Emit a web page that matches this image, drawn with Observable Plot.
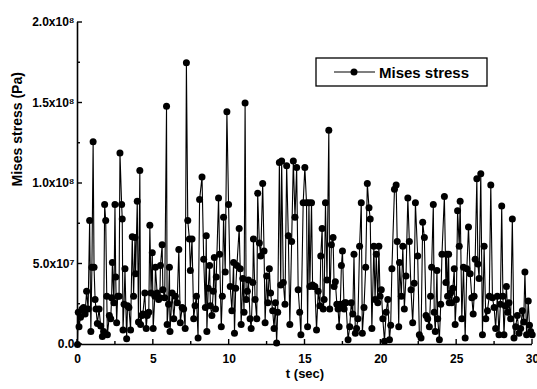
<!DOCTYPE html>
<html><head><meta charset="utf-8">
<script src="https://cdn.jsdelivr.net/npm/d3@7"></script>
<script src="https://cdn.jsdelivr.net/npm/@observablehq/plot@0.6"></script>
<style>
body{margin:0;background:#fff}
#chart{width:537px;height:389px}
</style>
</head><body><div id="chart"></div>
<script>
// Mises stress readings: [t (sec), stress in units of 1e7 Pa]
const UNIT = 1e7;
const readings = [
[0,0],[0.05,2.0],[0.1,1.1],[0.2,1.7],[0.3,2.2],[0.4,2.3],[0.5,1.9],[0.6,3.3],[0.7,2.2],[0.8,7.7],[0.88,0.8],[0.95,4.8],[1.03,12.6],[1.09,4.8],[1.16,2.8],[1.22,2.2],[1.31,1.3],[1.42,2.2],[1.53,1.15],[1.64,0.5],[1.72,0.8],[1.79,8.7],[1.86,7.7],[1.93,3.0],[1.97,0.6],[2.1,1.8],[2.19,1.6],[2.25,2.9],[2.3,5.1],[2.4,2.6],[2.47,8.7],[2.52,4.2],[2.58,1.35],[2.65,3.0],[2.74,3.0],[2.8,11.9],[2.91,8.7],[2.95,7.8],[3.0,0.9],[3.07,2.5],[3.13,4.7],[3.24,0.35],[3.3,2.4],[3.39,2.3],[3.5,0.9],[3.61,6.7],[3.7,3.0],[3.79,6.65],[3.83,4.4],[3.94,8.9],[4.02,1.4],[4.11,10.8],[4.16,1.25],[4.25,1.8],[4.31,1.9],[4.44,3.2],[4.53,1.0],[4.6,1.8],[4.7,2.0],[4.77,7.4],[4.85,3.2],[4.93,5.7],[4.99,1.0],[5.1,3.0],[5.14,4.8],[5.25,3.2],[5.35,2.8],[5.43,2.9],[5.47,4.9],[5.58,6.2],[5.63,3.4],[5.75,2.9],[5.87,14.8],[5.91,1.25],[6.0,2.5],[6.06,4.8],[6.1,0.8],[6.24,3.2],[6.35,1.6],[6.45,3.0],[6.57,2.6],[6.68,5.9],[6.78,1.35],[6.9,2.3],[7.0,2.2],[7.1,1.0],[7.18,17.5],[7.27,7.7],[7.38,6.55],
[7.44,4.6],[7.55,6.55],[7.66,1.6],[7.75,2.4],[7.84,3.0],[7.95,0.4],[8.05,9.0],[8.21,10.4],[8.32,5.3],[8.43,2.3],[8.49,6.75],[8.53,0.8],[8.62,3.5],[8.71,4.9],[8.76,2.4],[8.86,1.8],[8.95,3.3],[9.02,5.4],[9.1,2.2],[9.15,4.2],[9.3,9.1],[9.37,5.6],[9.48,1.1],[9.55,3.0],[9.63,7.9],[9.74,4.5],[9.85,14.45],[9.96,8.7],[10.07,3.6],[10.18,2.1],[10.29,5.1],[10.35,0.7],[10.43,3.5],[10.51,4.9],[10.66,7.2],[10.73,4.7],[10.79,1.25],[10.9,4.1],[10.98,2.0],[11.05,15.0],[11.12,2.8],[11.2,3.3],[11.27,4.0],[11.38,1.6],[11.45,1.0],[11.56,3.85],[11.6,6.55],[11.71,2.8],[11.82,1.6],[11.88,9.4],[11.99,6.3],[12.08,5.5],[12.21,10.0],[12.3,5.8],[12.37,1.35],[12.47,4.25],[12.55,2.6],[12.65,4.7],[12.73,3.2],[12.87,2.1],[12.96,1.0],[13.05,2.6],[13.13,0.1],[13.2,2.0],[13.31,11.3],[13.4,3.7],[13.46,11.4],[13.57,3.85],[13.68,2.5],[13.79,11.1],[13.9,6.75],[14.0,1.25],[14.12,6.4],[14.23,11.4],[14.34,7.9],[14.45,11.0],[14.55,3.4],[14.65,2.0],[14.73,0.6],[14.88,8.8],[14.99,11.0],
[15.1,8.8],[15.17,1.1],[15.26,8.8],[15.32,3.6],[15.43,8.8],[15.5,3.7],[15.58,3.6],[15.65,3.6],[15.76,0.9],[15.87,3.3],[15.98,2.4],[16.04,5.5],[16.13,7.2],[16.2,2.2],[16.26,2.8],[16.35,8.8],[16.45,4.0],[16.57,13.3],[16.63,2.2],[16.74,6.2],[16.85,6.65],[16.92,3.6],[17.0,3.9],[17.1,2.5],[17.18,2.2],[17.25,1.1],[17.33,2.5],[17.4,4.9],[17.47,5.8],[17.58,2.2],[17.62,2.6],[17.7,2.6],[17.84,0.3],[17.95,1.1],[18.05,2.6],[18.15,1.9],[18.23,5.6],[18.32,0.7],[18.4,1.0],[18.49,1.6],[18.6,6.1],[18.71,8.8],[18.78,0.7],[18.89,2.3],[19.0,4.8],[19.11,10.0],[19.22,8.5],[19.3,7.8],[19.41,1.0],[19.54,6.1],[19.62,2.8],[19.7,5.6],[19.8,2.6],[19.87,6.1],[19.95,3.0],[20.03,3.4],[20.13,1.6],[20.24,0.2],[20.35,2.0],[20.46,2.8],[20.57,0.3],[20.65,1.2],[20.73,4.7],[20.9,9.65],[21.01,9.9],[21.08,6.4],[21.18,1.1],[21.23,5.1],[21.35,3.0],[21.45,6.1],[21.55,2.2],[21.66,4.25],[21.78,9.1],[21.88,6.4],[21.99,3.4],[22.1,1.35],[22.2,3.8],[22.28,8.8],[22.43,5.5],[22.54,0.6],
[22.65,0.4],[22.76,7.6],[22.87,6.65],[22.98,1.8],[23.09,1.6],[23.2,1.1],[23.28,3.0],[23.35,4.8],[23.46,8.7],[23.52,2.0],[23.59,0.8],[23.7,4.6],[23.75,1.6],[23.86,0.3],[23.95,2.5],[24.03,5.6],[24.19,9.2],[24.29,3.85],[24.34,5.6],[24.4,3.0],[24.47,5.6],[24.51,2.6],[24.6,3.2],[24.67,2.6],[24.75,3.5],[24.84,4.7],[24.9,1.25],[24.98,2.8],[25.06,8.3],[25.17,6.1],[25.23,8.9],[25.34,1.6],[25.45,4.8],[25.56,0.4],[25.67,4.7],[25.78,7.3],[25.89,4.4],[26.0,2.9],[26.09,1.9],[26.15,3.0],[26.22,5.3],[26.33,10.3],[26.4,5.0],[26.48,4.1],[26.59,10.6],[26.7,0.6],[26.81,6.1],[26.92,1.6],[27.03,2.1],[27.15,3.0],[27.25,9.9],[27.36,2.9],[27.47,2.3],[27.57,1.0],[27.68,3.0],[27.79,0.6],[27.88,2.5],[27.97,8.6],[28.05,3.0],[28.12,0.6],[28.2,2.4],[28.28,3.6],[28.36,2.0],[28.45,2.6],[28.56,1.6],[28.67,7.8],[28.78,0.4],[28.89,1.1],[29.0,1.8],[29.11,0.7],[29.22,1.0],[29.33,2.1],[29.42,1.4],[29.5,4.5],[29.61,0.6],[29.72,2.7],[29.8,1.2],[29.88,0.8],[29.98,0.6]
];
const seriesName = "Mises stress";
const xMajor = [0, 5, 10, 15, 20, 25, 30];
const xMinor = [2.5, 7.5, 12.5, 17.5, 22.5, 27.5];
const yMajor = [0, 5e7, 1e8, 1.5e8, 2e8];
const yMajorLabels = ["0.0", "5.0x10\u2077", "1.0x10\u2078", "1.5x10\u2078", "2.0x10\u2078"];
const yMinor = [2.5e7, 7.5e7, 1.25e8, 1.75e8];
const xTitle = "t (sec)";
const yTitle = "Mises stress (Pa)";

const data = readings.map(([t, v]) => ({t, stress: v * UNIT}));
const FONT = '"Liberation Sans", Arial, Helvetica, sans-serif';

const chart = Plot.plot({
  width: 537, height: 389,
  marginLeft: 77, marginRight: 5, marginTop: 22, marginBottom: 45,
  style: {fontFamily: FONT, fontWeight: "bold", background: "#fff", color: "#000"},
  x: {domain: [0, 30]},
  y: {domain: [0, 2e8]},
  marks: [
    Plot.axisX(xMajor, {tickSize: 0, tickPadding: 10, fontSize: 12, tickFormat: d => String(d), label: null}),
    Plot.axisY(yMajor, {tickSize: 0, tickPadding: 3, fontSize: 12, tickFormat: d => yMajorLabels[yMajor.indexOf(d)], label: null}),
    Plot.ruleX([0], {stroke: "#000", strokeWidth: 1.6}),
    Plot.ruleY([0], {stroke: "#000", strokeWidth: 1.6}),
    Plot.line(data, {x: "t", y: "stress", stroke: "#000", strokeWidth: 1.1}),
    Plot.dot(data, {x: "t", y: "stress", r: 3.5, fill: "#000", stroke: "none"}),
    Plot.text([xTitle], {frameAnchor: "bottom", lineAnchor: "middle", dy: 29, fontSize: 13, fontWeight: "bold", fill: "#000"}),
    Plot.text([yTitle], {frameAnchor: "left", lineAnchor: "middle", rotate: -90, dx: -60, dy: 3, fontSize: 14, fontWeight: "bold", fill: "#000"})
  ]
});

// inward ticks drawn with the plot's own scales
const sx = chart.scale("x"), sy = chart.scale("y");
const svg = d3.select(chart.tagName.toLowerCase() === "svg" ? chart : chart.querySelector("svg"));
const x0 = sx.apply(0), y0 = sy.apply(0);
const g = svg.append("g").attr("stroke", "#000").attr("stroke-width", 1.4);
yMajor.forEach(v => g.append("line").attr("x1", x0).attr("x2", x0 + 5).attr("y1", sy.apply(v)).attr("y2", sy.apply(v)));
yMinor.forEach(v => g.append("line").attr("x1", x0).attr("x2", x0 + 3).attr("y1", sy.apply(v)).attr("y2", sy.apply(v)));
xMajor.forEach(v => g.append("line").attr("x1", sx.apply(v)).attr("x2", sx.apply(v)).attr("y1", y0).attr("y2", y0 - 5));
xMinor.forEach(v => g.append("line").attr("x1", sx.apply(v)).attr("x2", sx.apply(v)).attr("y1", y0).attr("y2", y0 - 3));

// legend box
const lg = svg.append("g");
lg.append("rect").attr("x", 316).attr("y", 58).attr("width", 171).attr("height", 28)
  .attr("fill", "#fff").attr("stroke", "#000").attr("stroke-width", 1.3);
lg.append("line").attr("x1", 334).attr("x2", 375).attr("y1", 72).attr("y2", 72).attr("stroke", "#000").attr("stroke-width", 1.1);
lg.append("circle").attr("cx", 354).attr("cy", 72).attr("r", 3.5).attr("fill", "#000");
lg.append("text").attr("x", 379).attr("y", 77.5).attr("font-size", 15).attr("font-weight", "bold")
  .attr("text-anchor", "start").attr("font-family", FONT).attr("fill", "#000").text(seriesName);

document.getElementById("chart").appendChild(chart);
</script>
</body></html>
